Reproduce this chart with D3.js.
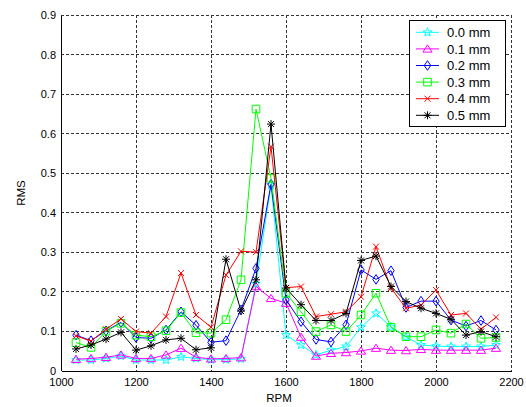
<!DOCTYPE html>
<html>
<head>
<meta charset="utf-8">
<script src="https://cdn.jsdelivr.net/npm/d3@7"></script>
<style>
  html, body { margin: 0; padding: 0; background: #fff; }
  svg { display: block; }
  text { font-family: "Liberation Sans", Arial, sans-serif; fill: #000; }
</style>
</head>
<body>
<svg id="chart" width="526" height="407"></svg>
<script>
// Engine speed (RPM) at each measurement
const rpm = [1040, 1080, 1120, 1160, 1200, 1240, 1280, 1320, 1360, 1400, 1440, 1480, 1520, 1560,
             1600, 1640, 1680, 1720, 1760, 1800, 1840, 1880, 1920, 1960, 2000, 2040, 2080, 2120, 2160];

// RMS vibration for each defect size
const rms00 = [0.027, 0.027, 0.031, 0.037, 0.027, 0.027, 0.027, 0.035, 0.031, 0.028, 0.028, 0.030, 0.220, 0.470,
               0.090, 0.065, 0.040, 0.052, 0.061, 0.110, 0.145, 0.111, 0.085, 0.065, 0.062, 0.061, 0.061, 0.061, 0.065];
const rms01 = [0.029, 0.031, 0.034, 0.040, 0.031, 0.031, 0.040, 0.057, 0.034, 0.030, 0.031, 0.033, 0.213, 0.183,
               0.171, 0.085, 0.037, 0.044, 0.046, 0.050, 0.057, 0.052, 0.051, 0.054, 0.052, 0.052, 0.052, 0.052, 0.057];
const rms02 = [0.090, 0.076, 0.101, 0.122, 0.084, 0.082, 0.103, 0.149, 0.115, 0.072, 0.076, 0.154, 0.259, 0.472,
               0.179, 0.124, 0.079, 0.073, 0.116, 0.255, 0.231, 0.253, 0.160, 0.176, 0.176, 0.128, 0.113, 0.127, 0.103];
const rms03 = [0.071, 0.059, 0.100, 0.120, 0.090, 0.086, 0.101, 0.147, 0.096, 0.095, 0.129, 0.230, 0.662, 0.487,
               0.196, 0.149, 0.099, 0.116, 0.099, 0.141, 0.196, 0.110, 0.086, 0.086, 0.103, 0.095, 0.118, 0.082, 0.084];
const rms04 = [0.088, 0.075, 0.105, 0.131, 0.099, 0.095, 0.137, 0.247, 0.141, 0.110, 0.242, 0.302, 0.300, 0.567,
               0.210, 0.213, 0.137, 0.143, 0.149, 0.187, 0.314, 0.209, 0.158, 0.166, 0.204, 0.141, 0.145, 0.105, 0.135];
const rms05 = [0.055, 0.065, 0.080, 0.097, 0.052, 0.063, 0.078, 0.082, 0.053, 0.058, 0.282, 0.151, 0.230, 0.624,
               0.209, 0.167, 0.127, 0.127, 0.145, 0.279, 0.290, 0.213, 0.175, 0.158, 0.145, 0.130, 0.090, 0.099, 0.086];

const seriesNames = ["0.0 mm", "0.1 mm", "0.2 mm", "0.3 mm", "0.4 mm", "0.5 mm"];
const seriesColors = ["#00ffff", "#ff00ff", "#0000ff", "#00ff00", "#ff0000", "#000000"];
const seriesMarkers = ["star", "triangle", "diamond", "square", "x", "asterisk"];
const seriesValues = [rms00, rms01, rms02, rms03, rms04, rms05];

const xTicks = [1000, 1200, 1400, 1600, 1800, 2000, 2200];
const yTicks = [0, 0.1, 0.2, 0.3, 0.4, 0.5, 0.6, 0.7, 0.8, 0.9];

const svg = d3.select("#chart");
const plotLeft = 61, plotRight = 511, plotTop = 15, plotBottom = 370.7;

const x = d3.scaleLinear().domain([1000, 2200]).range([plotLeft, plotRight]);
const y = d3.scaleLinear().domain([0, 0.9]).range([plotBottom, plotTop]);

// Dashed grid
const grid = svg.append("g").attr("stroke", "#333").attr("stroke-width", 1)
  .attr("stroke-dasharray", "3,2").attr("shape-rendering", "crispEdges");
xTicks.filter(t => t > 1000).forEach(t => {
  grid.append("line").attr("x1", x(t)).attr("x2", x(t)).attr("y1", plotTop).attr("y2", plotBottom);
});
yTicks.filter(t => t > 0).forEach(t => {
  grid.append("line").attr("x1", plotLeft).attr("x2", plotRight).attr("y1", y(t)).attr("y2", y(t));
});

// Axes
const xAxis = d3.axisBottom(x).tickValues(xTicks).tickSize(0).tickPadding(8).tickFormat(d3.format("d"));
const yAxis = d3.axisLeft(y).tickValues(yTicks).tickSize(0).tickPadding(5)
  .tickFormat(d => d === 0 ? "0" : d3.format(".1f")(d));

const gx = svg.append("g").attr("transform", `translate(0,${plotBottom})`).call(xAxis);
const gy = svg.append("g").attr("transform", `translate(${plotLeft},0)`).call(yAxis);
[gx, gy].forEach(g => {
  g.select(".domain").attr("stroke", "#000").attr("shape-rendering", "crispEdges");
  g.selectAll("text").attr("font-size", 11).attr("font-family", "'Liberation Sans', Arial, sans-serif").attr("fill", "#000");
});

svg.append("text").attr("x", 279).attr("y", 402).attr("text-anchor", "middle")
  .attr("font-size", 11.5).text("RPM");
svg.append("text").attr("transform", "translate(25,193) rotate(-90)").attr("text-anchor", "middle")
  .attr("font-size", 11.5).text("RMS");

// Marker shapes centred on the origin
function markerPath(kind) {
  switch (kind) {
    case "star": {
      const pts = [];
      for (let i = 0; i < 10; i++) {
        const r = i % 2 === 0 ? 4.6 : 1.9;
        const a = -Math.PI / 2 + i * Math.PI / 5;
        pts.push([r * Math.cos(a), r * Math.sin(a)]);
      }
      return "M" + pts.map(p => p.join(",")).join("L") + "Z";
    }
    case "triangle": return "M0,-4L4.6,3.2L-4.6,3.2Z";
    case "diamond": return "M0,-4.8L3.2,0L0,4.8L-3.2,0Z";
    case "square": return "M-3.8,-3.8H3.8V3.8H-3.8Z";
    case "x": return "M-3,-3L3,3M-3,3L3,-3";
    case "asterisk": return "M-4,0H4M0,-4V4M-3,-3L3,3M-3,3L3,-3";
  }
}

const line = d3.line().x((d, i) => x(rpm[i])).y(d => y(d));

seriesValues.forEach((vals, s) => {
  const g = svg.append("g").attr("class", "series");
  g.append("path").attr("d", line(vals)).attr("fill", "none")
    .attr("stroke", seriesColors[s]).attr("stroke-width", 1);
  g.selectAll("path.mk").data(vals).join("path").attr("class", "mk")
    .attr("transform", (d, i) => `translate(${x(rpm[i])},${y(d)})`)
    .attr("d", markerPath(seriesMarkers[s]))
    .attr("fill", "none").attr("stroke", seriesColors[s]).attr("stroke-width", 1);
});

// Legend
const lg = svg.append("g");
lg.append("rect").attr("x", 409.5).attr("y", 20.5).attr("width", 96).attr("height", 106)
  .attr("fill", "#fff").attr("stroke", "#000").attr("stroke-width", 1);
seriesNames.forEach((name, s) => {
  const cy = 32.3 + s * 16.6;
  lg.append("line").attr("x1", 416).attr("x2", 439).attr("y1", cy).attr("y2", cy)
    .attr("stroke", seriesColors[s]).attr("stroke-width", 1);
  lg.append("path").attr("transform", `translate(427.5,${cy})`).attr("d", markerPath(seriesMarkers[s]))
    .attr("fill", "none").attr("stroke", seriesColors[s]).attr("stroke-width", 1);
  lg.append("text").attr("x", 447).attr("y", cy).attr("dy", "0.36em")
    .attr("font-size", 13).text(name);
});
</script>
</body>
</html>
